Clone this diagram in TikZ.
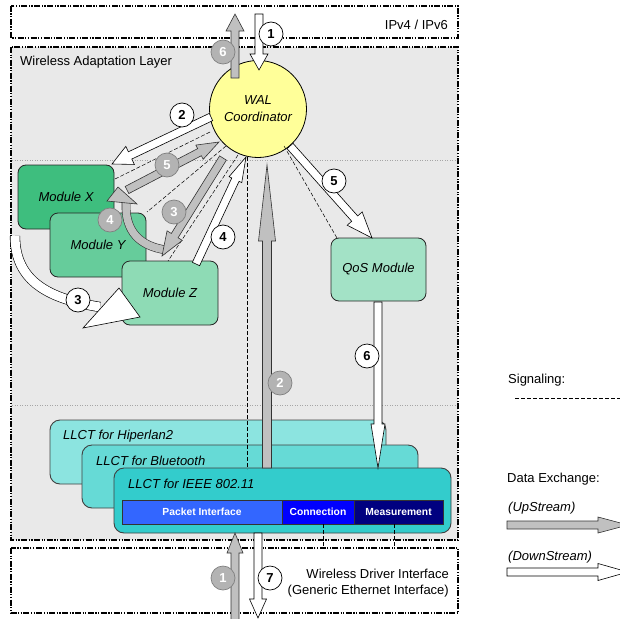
\documentclass[tikz,border=0pt]{standalone}
\usepackage{fontspec}
\setmainfont{Liberation Sans}
\usetikzlibrary{calc}
\definecolor{walbg}{HTML}{E9E9E9}
\definecolor{coordy}{HTML}{FFFF99}
\definecolor{modx}{HTML}{3EBE7E}
\definecolor{mody}{HTML}{66CC9B}
\definecolor{modz}{HTML}{8EDBB5}
\definecolor{qosc}{HTML}{A3E2C6}
\definecolor{llA}{HTML}{8CE4E0}
\definecolor{llB}{HTML}{66DAD6}
\definecolor{llC}{HTML}{33CCCC}
\definecolor{pktc}{HTML}{3366FF}
\definecolor{conc}{HTML}{0000FF}
\definecolor{meac}{HTML}{000080}
\definecolor{arrgray}{HTML}{C0C0C0}
\definecolor{labgray}{HTML}{B3B3B3}
\newcommand\blkarrow[6][]{%
  \draw[#1] let \p1=(#2), \p2=(#3), \n1={atan2(\y2-\y1,\x2-\x1)}, \n2={veclen(\x2-\x1,\y2-\y1)} in
  (\p1) ++(\n1-90:#4) -- ++(\n1:{\n2-#6}) -- ++(\n1-90:{#5-#4}) -- (\p2)
  -- ($(\p2)+(\n1+180:#6)+(\n1+90:#5)$) -- ++(\n1-90:{#5-#4}) -- ++(\n1+180:{\n2-#6}) -- cycle;}
\tikzset{
  txt/.style={font=\fontsize{13}{16}\selectfont, inner sep=0pt},
  itxt/.style={font=\fontsize{13}{16}\selectfont\itshape, inner sep=0pt},
  layerbox/.style={draw=black, line width=1.2pt, dash pattern=on 6pt off 1.5pt on 1.2pt off 1.5pt on 1.2pt off 1.5pt},
  module/.style={draw=black!85, line width=0.8pt, rounded corners=8pt, minimum width=96pt, minimum height=64pt, inner sep=0pt, font=\fontsize{13}{16}\selectfont\itshape},
  llct/.style={draw=black!75, line width=0.9pt, rounded corners=10pt, inner sep=0pt},
  bar/.style={draw=black!80, line width=0.6pt, inner sep=0pt, minimum height=24pt, text=white, font=\fontsize{10.3}{12}\selectfont\bfseries},
  grayarr/.style={fill=arrgray, draw=black!80, line width=0.6pt},
  whitearr/.style={fill=white, draw=black, line width=0.6pt},
  numw/.style={circle, draw=black, fill=white, line width=0.7pt, minimum size=24pt, inner sep=0pt, font=\fontsize{13}{13}\selectfont\bfseries},
  numg/.style={circle, draw=black!50, fill=labgray, text=white, line width=0.7pt, minimum size=24pt, inner sep=0pt, font=\fontsize{13}{13}\selectfont\bfseries},
  sig/.style={draw=black, line width=0.5pt, dash pattern=on 4pt off 2pt},
  sep/.style={draw=black!35, line width=0.5pt, dotted}
}
\begin{document}
\begin{tikzpicture}[x=1pt,y=-1pt]
\useasboundingbox (0,0) rectangle (620,618);
\clip (0,0) rectangle (620,618);
% layer boxes
\draw[layerbox, fill=white] (11,6) rectangle (458,38);
\node[txt, anchor=east] (ipv) at (448,25) {IPv4 / IPv6};
\draw[layerbox, fill=walbg] (11,47) rectangle (458,540);
\node[txt, anchor=west] (wal) at (20,62) {Wireless Adaptation Layer};
\draw[layerbox, fill=white] (11,548) rectangle (458,613);
\node[txt, anchor=east, align=right] (wdi) at (449,583) {Wireless Driver Interface\\(Generic Ethernet Interface)};
\draw[sep] (12,160) -- (457,160);
\draw[sep] (12,405) -- (457,405);

% modules
\node[module, fill=modx] (mx) at (66,197) {Module X};
\node[module, fill=mody] (my) at (98,245) {Module Y};
\node[module, fill=modz] (mz) at (170,293) {Module Z};
\node[module, fill=qosc, minimum width=95pt, minimum height=63pt] (qos) at (378.5,269.5) {QoS Module};

% LLCT
\node[llct, fill=llA, minimum width=336pt, minimum height=64pt] (llh) at (218,452) {};
\node[itxt, anchor=west] (llht) at (63,436) {LLCT for Hiperlan2};
\node[llct, fill=llB, minimum width=336pt, minimum height=63pt] (llb) at (250,476.5) {};
\node[itxt, anchor=west] (llbt) at (96,461) {LLCT for Bluetooth};
\node[llct, fill=llC, minimum width=337pt, minimum height=65pt] (lli) at (282.5,500.5) {};
\node[itxt, anchor=west] (llit) at (128,484) {LLCT for IEEE 802.11};
\node[bar, fill=pktc, minimum width=160pt] (pkt) at (202,512) {Packet Interface};
\node[bar, fill=conc, minimum width=72pt] (con) at (318,512) {Connection};
\node[bar, fill=meac, minimum width=89pt] (mea) at (398.5,512) {Measurement};

% coordinator
\node[circle, draw=black, line width=0.8pt, fill=coordy, minimum size=97pt, inner sep=0pt, align=center, font=\fontsize{13}{17}\selectfont\itshape] (coord) at (258,109) {WAL\\Coordinator};

% signaling lines
\coordinate (s1a) at (210,132); \coordinate (s1b) at (113,180);
\coordinate (s2a) at (226,146); \coordinate (s2b) at (147,212);
\coordinate (s3a) at (238,155); \coordinate (s3b) at (168,261);
\coordinate (s4a) at (284,146); \coordinate (s4b) at (337,238);
\coordinate (s5a) at (247,157); \coordinate (s5b) at (247,469);
\coordinate (s6b) at (323,548); \coordinate (s7b) at (394,548);
\draw[sig] (s1a) -- (s1b);
\draw[sig] (s2a) -- (s2b);
\draw[sig] (s3a) -- (s3b);
\draw[sig] (s4a) -- (s4b);
\draw[sig] (s5a) -- (s5b);
\draw[sig] (con.south -| s6b) -- (s6b);
\draw[sig] (mea.south -| s7b) -- (s7b);

% curved arrows
\coordinate (c4a) at (126,203); \coordinate (c4b) at (166,250);
\draw[draw=black!80, line width=0.6pt, double=arrgray, double distance=7.5pt] (c4a) .. controls (125,232) and (140,246) .. (c4b);
\draw[grayarr] (118,187) -- (107,201) -- (137,204) -- cycle;
\coordinate (c3a) at (15,236); \coordinate (c3b) at (100,307);
\draw[draw=black, line width=0.6pt, double=white, double distance=9pt] (c3a) .. controls (15,282) and (50,299) .. (c3b);
\draw[whitearr] (83,328) -- (119,288) -- (140,317) -- cycle;

% straight block arrows
\coordinate (a1s) at (259,14); \coordinate (a1e) at (259,70);
\coordinate (a6s) at (235,78); \coordinate (a6e) at (235,14);
\coordinate (a2s) at (211,117); \coordinate (a2e) at (112,164);
\coordinate (g5s) at (127,190); \coordinate (g5e) at (219,142);
\coordinate (g3s) at (223,158); \coordinate (g3e) at (162,256);
\coordinate (w4s) at (196,264); \coordinate (w4e) at (246,157);
\coordinate (w5s) at (290,146); \coordinate (w5e) at (372,238);
\coordinate (w6s) at (378,302); \coordinate (w6e) at (378,468);
\coordinate (g2s) at (267,468); \coordinate (g2e) at (267,165);
\coordinate (g1s) at (235,625); \coordinate (g1e) at (235,533);
\coordinate (w7s) at (258,533); \coordinate (w7e) at (258,618);
\blkarrow[whitearr]{a1s}{a1e}{4pt}{9pt}{16pt}
\blkarrow[grayarr]{a6s}{a6e}{4pt}{9pt}{17pt}
\blkarrow[whitearr]{a2s}{a2e}{4pt}{10pt}{20pt}
\blkarrow[grayarr]{g5s}{g5e}{4pt}{8pt}{22pt}
\blkarrow[grayarr]{g3s}{g3e}{4pt}{9pt}{24pt}
\blkarrow[whitearr]{w4s}{w4e}{4pt}{7pt}{25pt}
\blkarrow[whitearr]{w5s}{w5e}{4pt}{10pt}{26pt}
\blkarrow[whitearr]{w6s}{w6e}{4pt}{7pt}{44pt}
\blkarrow[grayarr]{g2s}{g2e}{4.5pt}{8.5pt}{76pt}
\blkarrow[grayarr]{g1s}{g1e}{4pt}{8pt}{20pt}
\blkarrow[whitearr]{w7s}{w7e}{4pt}{8.5pt}{19pt}

% number labels
\node[numw] (n1t) at (271,34) {1};
\node[numg] (n6t) at (223,52) {6};
\node[numw] (n2) at (182,115) {2};
\node[numg] (n5g) at (167,165) {5};
\node[numg] (n3g) at (174,212) {3};
\node[numg] (n4g) at (110,220) {4};
\node[numw] (n4w) at (223,237) {4};
\node[numw] (n5w) at (334,181) {5};
\node[numw] (n3w) at (78,300) {3};
\node[numw] (n6w) at (367,356) {6};
\node[numg] (n2g) at (280,383) {2};
\node[numg] (n1b) at (223,578) {1};
\node[numw] (n7) at (270,578) {7};

% legend
\node[txt, anchor=west] (lsig) at (508,380) {Signaling:};
\coordinate (lsa) at (515,398); \coordinate (lsb) at (620,398);
\draw[sig] (lsa) -- (lsb);
\node[txt, anchor=west] (ldx) at (507,479) {Data Exchange:};
\node[itxt, anchor=west] (lup) at (508,508) {(UpStream)};
\coordinate (lus) at (507,525); \coordinate (lue) at (628,525);
\blkarrow[grayarr]{lus}{lue}{4pt}{8pt}{30pt}
\node[itxt, anchor=west] (ldn) at (508,557) {(DownStream)};
\coordinate (lds) at (507,572); \coordinate (lde) at (628,572);
\blkarrow[whitearr]{lds}{lde}{4pt}{8.5pt}{30pt}
\end{tikzpicture}
\end{document}
